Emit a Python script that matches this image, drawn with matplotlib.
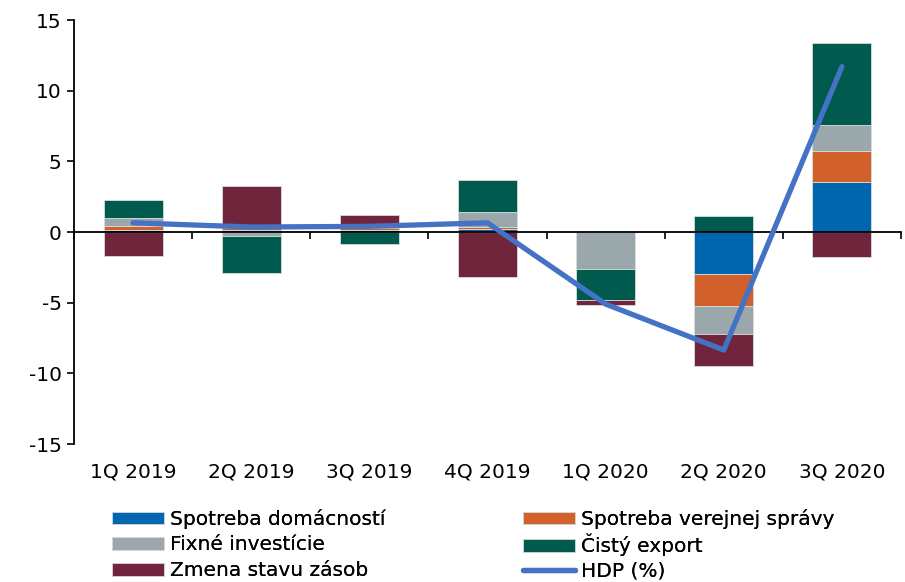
import numpy as np
import matplotlib
matplotlib.use('Agg')
import matplotlib.pyplot as plt
from matplotlib.ticker import FixedLocator

stvrtroky = ['1Q 2019', '2Q 2019', '3Q 2019', '4Q 2019', '1Q 2020', '2Q 2020', '3Q 2020']

spotreba_dom = [0.15, 0.15, 0.15, 0.2, 0.0, -2.95, 3.55]
spotreba_vs = [0.3, 0.15, 0.1, 0.15, 0.0, -2.3, 2.15]
fixne_inv = [0.55, -0.3, 0.0, 1.05, -2.6, -1.95, 1.85]
cisty_export = [1.25, -2.6, -0.85, 2.3, -2.2, 1.15, 5.8]
zasoby = [-1.7, 2.95, 0.95, -3.15, -0.4, -2.3, -1.8]
hdp = [0.65, 0.35, 0.4, 0.65, -5.1, -8.35, 11.7]

serie = [
    ('Spotreba domácností', spotreba_dom, '#0066ad'),
    ('Spotreba verejnej správy', spotreba_vs, '#d2602a'),
    ('Fixné investície', fixne_inv, '#9ba8ab'),
    ('Čistý export', cisty_export, '#005a4e'),
    ('Zmena stavu zásob', zasoby, '#71253d'),
]

plt.rcParams['font.family'] = ['DejaVu Sans']
plt.rcParams['font.size'] = 14.5
plt.rcParams['axes.unicode_minus'] = False

fig = plt.figure(figsize=(9.05, 5.82), dpi=100)
ax = fig.add_axes([74 / 905, 1 - 444 / 582, 827 / 905, 424 / 582])

x = np.arange(len(stvrtroky))
kladne = np.zeros(len(x))
zaporne = np.zeros(len(x))
handles = {}
for nazov, hodnoty, farba in serie:
    h = np.array(hodnoty)
    spodok = np.where(h >= 0, kladne, zaporne)
    b = ax.bar(x, h, 0.5, bottom=spodok, color=farba, edgecolor='#d8dcdc',
               linewidth=0.6, label=nazov, zorder=2)
    handles[nazov] = b
    kladne += np.where(h >= 0, h, 0)
    zaporne += np.where(h < 0, h, 0)

ciara, = ax.plot(x, hdp, color='#4472c4', linewidth=3.8, label='HDP (%)',
                 solid_capstyle='round', zorder=4)
handles['HDP (%)'] = ciara

ax.set_xlim(-0.5, len(x) - 0.5)
ax.set_ylim(-15, 15)
ax.set_yticks([-15, -10, -5, 0, 5, 10, 15])
ax.tick_params(axis='y', direction='out', length=5, width=1.2, pad=4, labelsize=14.5)

for s in ['top', 'right']:
    ax.spines[s].set_visible(False)
ax.spines['left'].set_linewidth(1.3)
ax.spines['bottom'].set_position(('data', 0))
ax.spines['bottom'].set_linewidth(1.3)
ax.spines['bottom'].set_zorder(3)
ax.xaxis.set_major_locator(FixedLocator(np.arange(len(x) + 1) - 0.5))
ax.set_xticklabels([])
ax.tick_params(axis='x', direction='out', length=5, width=1.2)

sec = ax.secondary_xaxis('bottom')
sec.set_xticks(x, stvrtroky)
sec.spines['bottom'].set_visible(False)
sec.tick_params(axis='x', length=0, pad=13, labelsize=14.5)

# legenda: 2 stlpce x 3 riadky, kazda polozka zvlast aby riadky sedeli
rozlozenie = [
    ['Spotreba domácností', 'Spotreba verejnej správy'],
    ['Fixné investície', 'Čistý export'],
    ['Zmena stavu zásob', 'HDP (%)'],
]
stlpce_x = [112 / 905, 523 / 905]
riadky_y = [1 - 519 / 582, 1 - 545 / 582, 1 - 571 / 582]
for r, riadok in enumerate(rozlozenie):
    for c, nazov in enumerate(riadok):
        leg = fig.legend([handles[nazov]], [nazov], loc='center left',
                         bbox_to_anchor=(stlpce_x[c], riadky_y[r]),
                         frameon=False, borderpad=0, borderaxespad=0,
                         handlelength=2.6, handleheight=0.6, handletextpad=0.3,
                         fontsize=14.5)
        fig.add_artist(leg)

fig.savefig('out.png', dpi=100)
plt.close(fig)
